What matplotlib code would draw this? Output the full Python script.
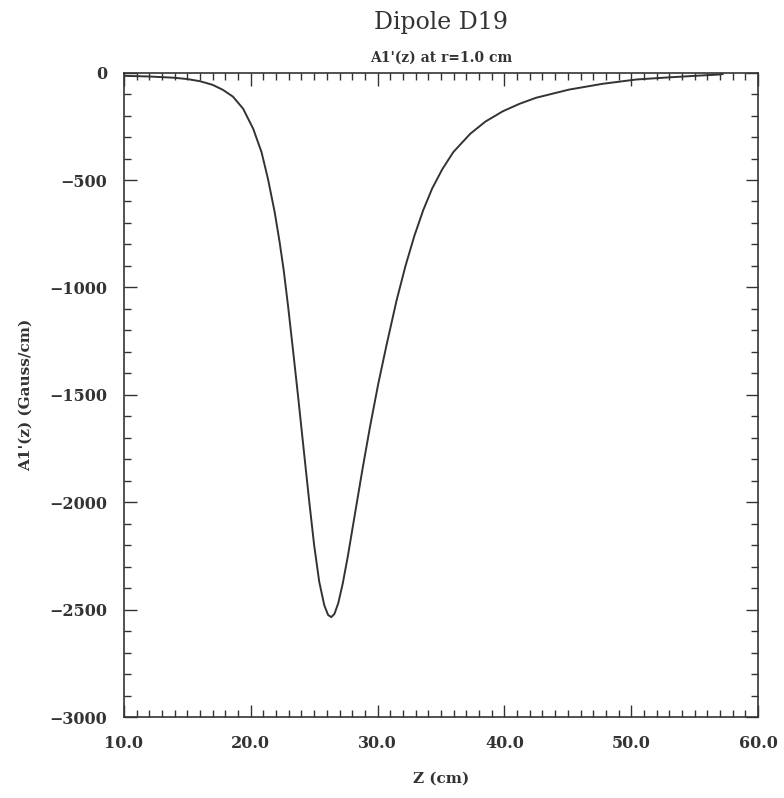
import matplotlib
matplotlib.use("Agg")
import matplotlib.pyplot as plt
from matplotlib.ticker import MultipleLocator, FormatStrFormatter

# z position (cm) and A1'(z) (Gauss/cm)
z = [10.0, 12.0, 14.0, 15.0, 16.0, 17.0, 17.8, 18.6, 19.4, 20.2, 20.85,
     21.36, 21.89, 22.28, 22.6, 22.95, 23.33, 23.72, 24.15, 24.6, 25.0,
     25.4, 25.8, 26.1, 26.35, 26.6, 26.9, 27.25, 27.66, 28.2, 28.8, 29.4,
     30.05, 30.7, 31.5, 32.2, 32.9, 33.6, 34.3, 35.1, 35.97, 37.3, 38.5,
     39.87, 41.2, 42.5, 45.1, 47.75, 50.4, 53.0, 55.0, 56.9, 57.2]
a1 = [-15, -18, -24, -30, -40, -57, -80, -112, -168, -262, -370,
      -495, -650, -790, -920, -1090, -1290, -1500, -1740, -1990, -2200,
      -2370, -2480, -2525, -2535, -2520, -2470, -2380, -2250, -2060, -1850, -1650,
      -1450, -1270, -1060, -900, -760, -640, -540, -450, -370, -285, -228,
      -180, -145, -117, -79, -52, -32, -22, -15, -9, -7]

serif = "DejaVu Serif"

fig = plt.figure(figsize=(7.84, 7.98), dpi=100)
ax = fig.add_axes([0.158, 0.1015, 0.809, 0.8075])

ax.plot(z, a1, color="#333333", linewidth=1.4)

ax.set_xlim(10, 60)
ax.set_ylim(-3000, 0)
ax.xaxis.set_major_locator(MultipleLocator(10))
ax.xaxis.set_minor_locator(MultipleLocator(1))
ax.yaxis.set_major_locator(MultipleLocator(500))
ax.yaxis.set_minor_locator(MultipleLocator(100))
ax.xaxis.set_major_formatter(FormatStrFormatter("%.1f"))
ax.tick_params(which="both", direction="in", top=True, right=True,
               colors="#333333", width=1.0)
ax.tick_params(which="major", length=9)
ax.tick_params(which="minor", length=5)
ax.tick_params(axis="x", which="major", pad=13)
ax.tick_params(axis="y", which="major", pad=12)
for lab in ax.get_xticklabels() + ax.get_yticklabels():
    lab.set_family(serif)
    lab.set_fontweight("bold")
    lab.set_fontsize(11.5)
    lab.set_color("#333333")
for s in ax.spines.values():
    s.set_color("#333333")
    s.set_linewidth(1.2)

ax.set_xlabel("Z (cm)", family=serif, fontweight="bold", fontsize=11,
              color="#333333", labelpad=14)
ax.set_ylabel("A1'(z) (Gauss/cm)", family=serif, fontweight="bold", fontsize=11,
              color="#333333", labelpad=12)
ax.set_title("A1'(z) at r=1.0 cm", family=serif, fontweight="bold", fontsize=10,
             color="#333333", pad=8)
fig.text(0.5625, 0.972, "Dipole D19", family=serif, fontsize=17, color="#333333",
         ha="center", va="center")

fig.savefig("out.png", dpi=100, facecolor="white")
